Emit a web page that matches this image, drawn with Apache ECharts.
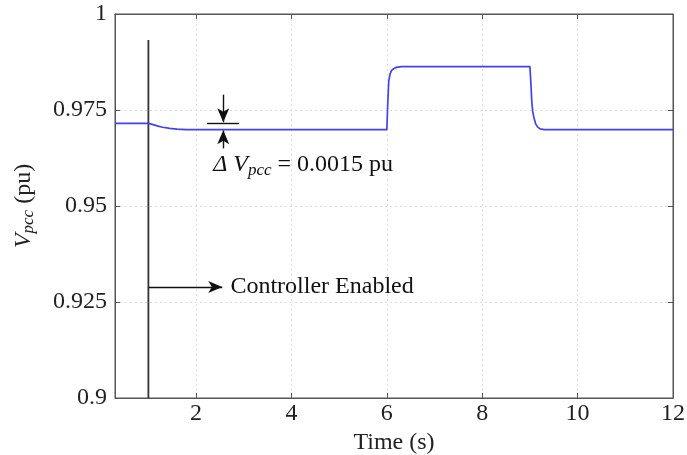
<!DOCTYPE html>
<html><head><meta charset="utf-8">
<script src="https://cdn.jsdelivr.net/npm/echarts@6/dist/echarts.min.js"></script>
<style>html,body{margin:0;padding:0;background:#fff}#c{width:687px;height:455px}</style>
</head><body><div id="c"></div>
<script>
// Data
const timeS = [0.3, 1.0, 1.1, 1.2, 1.3, 1.45, 1.6, 1.8, 2.2, 3.0, 6.0, 6.02, 6.04, 6.07, 6.1, 6.15, 6.2, 6.3, 6.5, 9.0, 9.02, 9.04, 9.06, 9.09, 9.12, 9.16, 9.21, 9.3, 12.0];
const vpcc  = [0.9715, 0.9715, 0.9712, 0.9708, 0.9705, 0.9702, 0.9700, 0.9699, 0.9699, 0.9699, 0.9699, 0.9770, 0.9825, 0.9845, 0.9853, 0.9858, 0.9861, 0.9863, 0.9863, 0.9863, 0.9820, 0.9770, 0.9745, 0.9727, 0.9714, 0.9706, 0.9701, 0.9699, 0.9699];
const xTicks = [2, 4, 6, 8, 10, 12];
const yTicks = [0.9, 0.925, 0.95, 0.975, 1];
const enableTime = 1;
const enableLineY = [0.9, 0.9932];
const enableArrowY = 0.9289;
const enableArrowEndX = 2.55;
const deltaArrowX = 2.57;
const deltaTopArrow = [0.9790, 0.9718];
const deltaBotArrow = [0.9650, 0.9697];
const deltaBarX = [2.23, 2.9];
const deltaBarY = 0.9715;
const deltaTextPos = [2.36, 0.9592];
const enableTextPos = [2.72, 0.9289];

const serif = '"Liberation Serif", "Times New Roman", serif';
const chart = echarts.init(document.getElementById('c'));
const fs = 24;
const gridColor = '#dcdcdc';
const axisCommon = {
  axisLine: {show: true, lineStyle: {color: '#555', width: 1}},
  axisTick: {show: true, inside: true, length: 5, lineStyle: {color: '#555'}},
};
chart.setOption({
  animation: false,
  backgroundColor: '#fff',
  grid: {left: 115, top: 14, right: 14, bottom: 57, show: true, borderColor: '#555', borderWidth: 1,
         containLabel: false, outerBoundsMode: 'none'},
  xAxis: [{
    type: 'value', min: 0.3, max: 12,
    ...axisCommon,
    axisTick: {show: true, inside: true, length: 5, lineStyle: {color: '#555'}, customValues: xTicks},
    axisLabel: {customValues: xTicks, fontFamily: serif, fontSize: fs, color: '#222', margin: 4},
    splitLine: {show: true, lineStyle: {color: gridColor, type: [2, 3], width: 1}},
    name: 'Time (s)', nameLocation: 'middle', nameGap: 25,
    nameTextStyle: {fontFamily: serif, fontSize: fs, color: '#222'}
  }, {
    type: 'value', min: 0.3, max: 12, position: 'top',
    axisLine: {show: true, lineStyle: {color: '#555'}},
    axisTick: {show: true, inside: true, length: 5, lineStyle: {color: '#555'}, customValues: xTicks},
    axisLabel: {show: false, customValues: xTicks}, splitLine: {show: false}
  }],
  yAxis: [{
    type: 'value', min: 0.9, max: 1, interval: 0.025,
    ...axisCommon,
    axisLabel: {fontFamily: serif, fontSize: fs, color: '#222', margin: 8,
      formatter: v => { const t = yTicks.find(k => Math.abs(k - v) < 1e-9); return t === undefined ? '' : String(t); }},
    splitLine: {show: true, lineStyle: {color: gridColor, type: [2, 3], width: 1}},
    name: '{v|V}{s|pcc}{n| (pu)}', nameLocation: 'middle', nameGap: 70, nameRotate: 90,
    nameTextStyle: {fontFamily: serif, fontSize: fs, color: '#222', rich: {
      v: {fontFamily: serif, fontSize: fs, fontStyle: 'italic', color: '#222', padding: [0, 0, 9, 0]},
      s: {fontFamily: serif, fontSize: 17, fontStyle: 'italic', color: '#222'},
      n: {fontFamily: serif, fontSize: fs, color: '#222', padding: [0, 0, 9, 0]}
    }}
  }, {
    type: 'value', min: 0.9, max: 1, interval: 0.025, position: 'right',
    axisLine: {show: true, lineStyle: {color: '#555'}},
    axisTick: {show: true, inside: true, length: 5, lineStyle: {color: '#555'}},
    axisLabel: {show: false}, splitLine: {show: false}
  }],
  series: [{
    type: 'line', data: timeS.map((t, i) => [t, vpcc[i]]),
    showSymbol: false, smooth: false,
    lineStyle: {color: '#4242f5', width: 1.7}, z: 5
  }, {
    type: 'line', data: enableLineY.map(v => [enableTime, v]), showSymbol: false,
    lineStyle: {color: '#333', width: 1.8}, z: 4,
    markLine: {
      silent: true, symbol: ['none', 'arrow'], symbolSize: [9, 14], label: {show: false},
      lineStyle: {color: '#111', width: 1.4, type: 'solid'},
      data: [
        [{coord: [enableTime, enableArrowY]}, {coord: [enableArrowEndX, enableArrowY]}],
        [{coord: [deltaArrowX, deltaTopArrow[0]]}, {coord: [deltaArrowX, deltaTopArrow[1]]}],
        [{coord: [deltaArrowX, deltaBotArrow[0]]}, {coord: [deltaArrowX, deltaBotArrow[1]]}],
        [{coord: [deltaBarX[0], deltaBarY], symbol: 'none'}, {coord: [deltaBarX[1], deltaBarY], symbol: 'none'}]
      ]
    }
  }]
});

function placeText() {
  const p1 = chart.convertToPixel({xAxisIndex: 0, yAxisIndex: 0}, deltaTextPos);
  const p2 = chart.convertToPixel({xAxisIndex: 0, yAxisIndex: 0}, enableTextPos);
  chart.setOption({graphic: [{
    type: 'text', x: p1[0], y: p1[1], z: 10,
    style: {
      text: '{i|Δ V}{s|pcc}{n| = 0.0015 pu}', verticalAlign: 'middle', align: 'left',
      rich: {
        i: {fontFamily: serif, fontSize: fs, fontStyle: 'italic', fill: '#111', padding: [0, 0, 12, 0]},
        s: {fontFamily: serif, fontSize: 17, fontStyle: 'italic', fill: '#111'},
        n: {fontFamily: serif, fontSize: fs, fill: '#111', padding: [0, 0, 12, 0]}
      }
    }
  }, {
    type: 'text', x: p2[0], y: p2[1], z: 10,
    style: {text: 'Controller Enabled', fontFamily: serif, fontSize: fs, fill: '#111', verticalAlign: 'middle'}
  }]});
}
placeText();
</script></body></html>
